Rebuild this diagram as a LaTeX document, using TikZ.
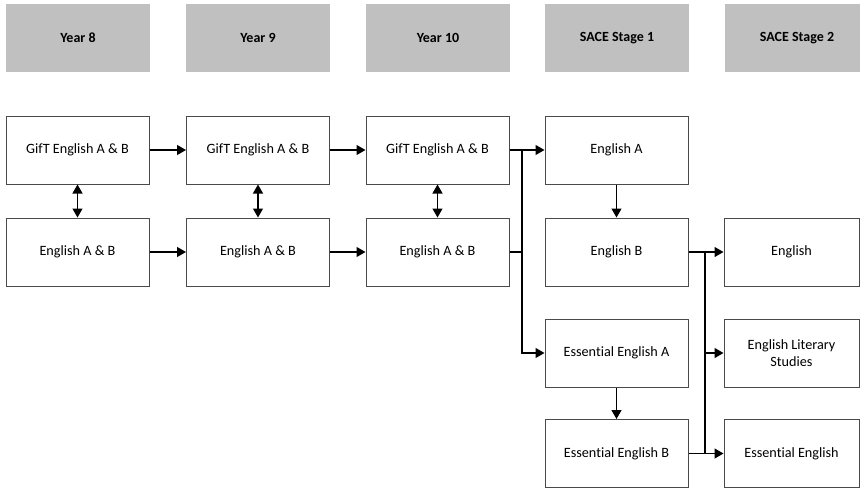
\documentclass[tikz,border=0pt]{standalone}
\usepackage{fontspec}
\setmainfont{Carlito}[Ligatures=NoCommon]
\usetikzlibrary{arrows.meta}
\definecolor{hdrgray}{HTML}{C0C0C0}
\definecolor{boxline}{HTML}{4A4A4A}
\tikzset{
  hdr/.style={fill=hdrgray, draw=none, minimum width=144pt, minimum height=68pt, inner sep=0pt, font=\fontsize{14}{17}\selectfont\bfseries},
  box/.style={draw=boxline, line width=1pt, fill=white, minimum width=143pt, minimum height=68pt, inner sep=0pt, align=center, font=\fontsize{14.2}{17}\selectfont},
  conn/.style={line width=1.3pt, black},
  arr/.style={conn, -{Triangle[length=9pt,width=10pt]}},
  darr/.style={conn, {Triangle[length=9pt,width=10pt]}-{Triangle[length=9pt,width=10pt]}}
}
\begin{document}
\begin{tikzpicture}[x=1pt,y=-1pt]
\useasboundingbox (0,0) rectangle (860,488);
% headers
\node[hdr] (h1) at (78,38) {Year 8};
\node[hdr] (h2) at (258,38) {Year 9};
\node[hdr] (h3) at (438,38) {Year 10};
\node[hdr] (h4) at (617,38) {SACE Stage 1};
\node[hdr] (h5) at (797,38) {SACE Stage 2};
% year boxes
\node[box] (g1) at (77.5,150) {GifT English A \& B};
\node[box] (g2) at (258,150) {GifT English A \& B};
\node[box] (g3) at (437.5,150) {GifT English A \& B};
\node[box] (e1) at (77.5,252) {English A \& B};
\node[box] (e2) at (258,252) {English A \& B};
\node[box] (e3) at (437.5,252) {English A \& B};
% stage 1
\node[box] (eA) at (616.5,150) {English A};
\node[box] (eB) at (616.5,252) {English B};
\node[box] (eeA) at (616.5,353) {Essential English A};
\node[box] (eeB) at (616.5,453.5) {Essential English B};
% stage 2
\node[box, minimum width=135pt] (s1) at (791.5,252) {English};
\node[box, minimum width=135pt] (s2) at (791.5,353) {English Literary\\Studies};
\node[box, minimum width=135pt] (s3) at (791.5,453.5) {Essential English};
% connectors
\draw[arr] (g1) -- (g2);
\draw[arr] (g2) -- (g3);
\draw[arr] (e1) -- (e2);
\draw[arr] (e2) -- (e3);
\draw[darr] (g1) -- (e1);
\draw[darr] (g2) -- (e2);
\draw[darr] (g3) -- (e3);
\coordinate (j1) at (522,150);
\coordinate (k1) at (705,252);
\coordinate (k2) at (705,453.5);
\draw[arr] (g3) -- (eA);
\draw[conn] (e3.east) -- (e3.east -| j1);
\draw[arr] (j1) |- (eeA.west);
\draw[arr] (eA) -- (eB);
\draw[arr] (eeA) -- (eeB);
\draw[arr] (eB) -- (s1);
\draw[arr] (eeB) -- (s3);
\draw[conn] (k1) -- (k2);
\draw[arr] (k1 |- s2.west) -- (s2.west);
\end{tikzpicture}
\end{document}
